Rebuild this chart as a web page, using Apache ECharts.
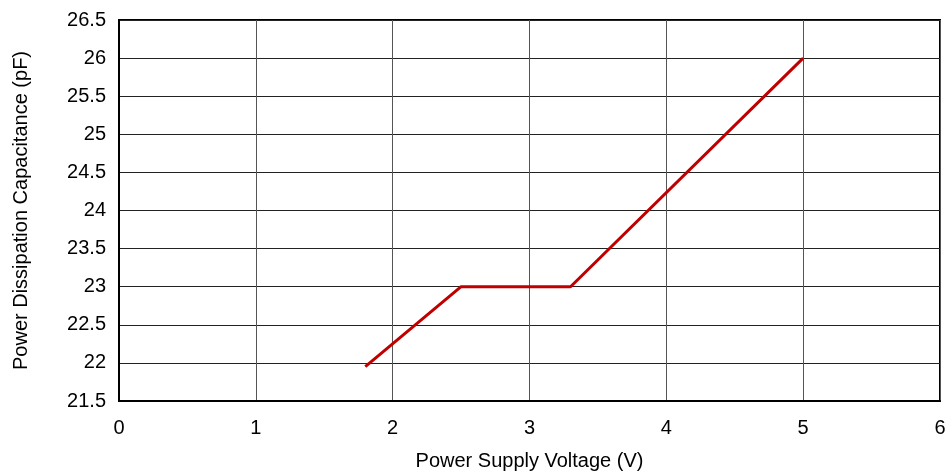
<!DOCTYPE html>
<html>
<head>
<meta charset="utf-8">
<script src="https://cdn.jsdelivr.net/npm/echarts@6/dist/echarts.min.js"></script>
<style>
  html, body { margin: 0; padding: 0; background: #fff; }
  #main { width: 948px; height: 474px; }
</style>
</head>
<body>
<div id="main"></div>
<script>
// supply voltage (V) and capacitance (pF)
var voltage = [1.8, 2.5, 3.3, 5.0];
var capacitance = [21.95, 23.0, 23.0, 26.0];

var chart = echarts.init(document.getElementById('main'));

var font = 'Liberation Sans, Arial, sans-serif';

var option = {
    animation: false,
    grid: {
        left: 119,
        right: 8,
        top: 20,
        bottom: 73,
        outerBoundsMode: 'none'
    },
    xAxis: {
        type: 'value',
        min: 0,
        max: 6,
        interval: 1,
        name: 'Power Supply Voltage (V)',
        nameLocation: 'middle',
        nameGap: 50,
        nameTextStyle: { color: '#000', fontSize: 20, fontFamily: font },
        axisLine: { show: true, lineStyle: { color: '#000', width: 2 } },
        axisTick: { show: false },
        axisLabel: { color: '#000', fontSize: 20, fontFamily: font, margin: 17 },
        splitLine: { show: true, lineStyle: { color: '#555', width: 1 } }
    },
    yAxis: {
        type: 'value',
        min: 21.5,
        max: 26.5,
        interval: 0.5,
        name: 'Power Dissipation Capacitance (pF)',
        nameLocation: 'middle',
        nameGap: 88,
        nameTextStyle: { color: '#000', fontSize: 20, fontFamily: font },
        axisLine: { show: true, lineStyle: { color: '#000', width: 2 } },
        axisTick: { show: false },
        axisLabel: { color: '#000', fontSize: 20, fontFamily: font, margin: 13 },
        splitLine: { show: true, lineStyle: { color: '#222', width: 1 } }
    },
    series: [{
        type: 'line',
        data: voltage.map(function (v, i) { return [v, capacitance[i]]; }),
        showSymbol: false,
        lineStyle: { color: '#c00000', width: 3 }
    }],
    graphic: [{
        type: 'rect',
        shape: { x: 119, y: 20, width: 821, height: 381 },
        style: { fill: 'none', stroke: '#000', lineWidth: 2 },
        silent: true
    }]
};

chart.setOption(option);
</script>
</body>
</html>
